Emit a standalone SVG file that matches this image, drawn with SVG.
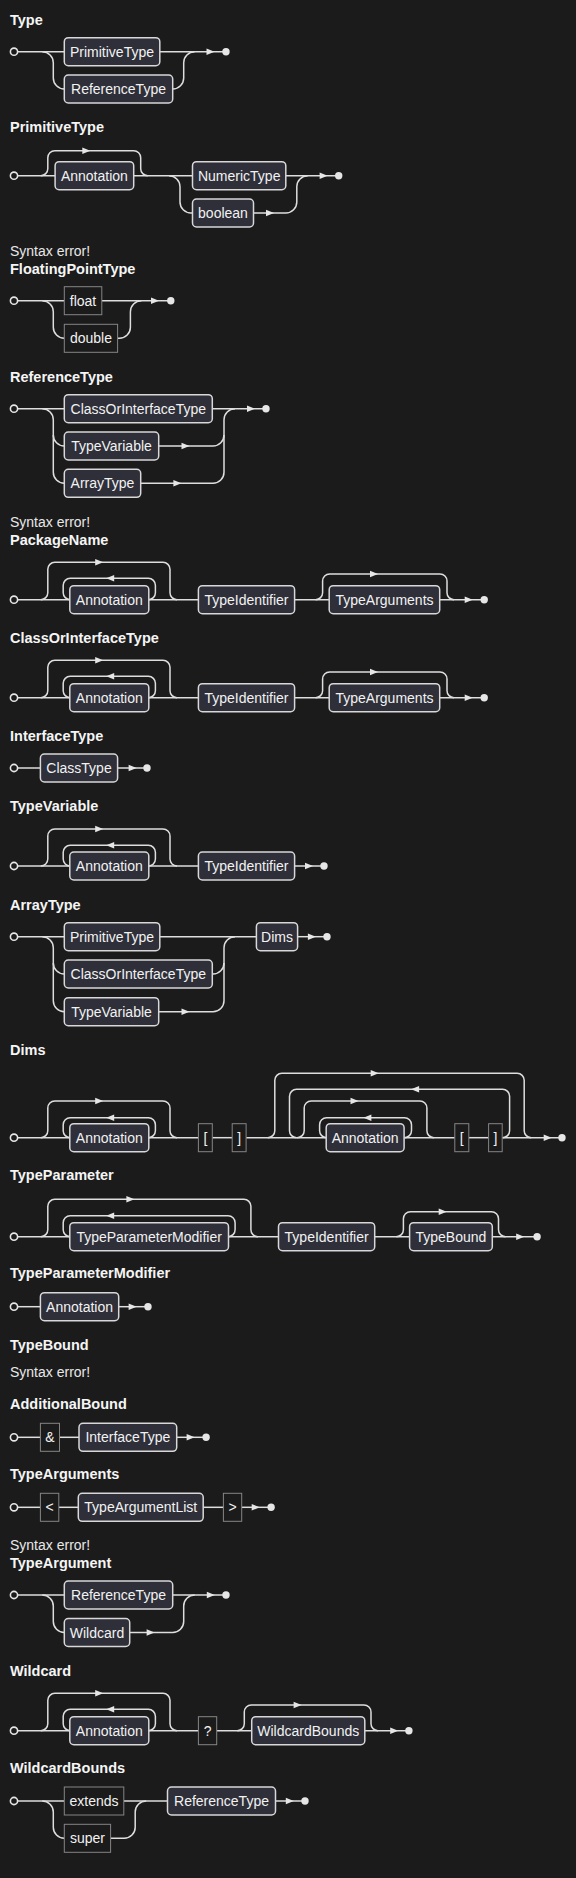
<svg xmlns="http://www.w3.org/2000/svg" width="576" height="1878" viewBox="0 0 576 1878">
<style>
.bg{fill:#1b1b1b}
.c path{fill:none;stroke:#dedede;stroke-width:1.5}
.ah{fill:#e6e6e6;stroke:none}
.dot{fill:#e6e6e6}
.st{fill:#1b1b1b;stroke:#e6e6e6;stroke-width:1.6}
.nt rect{fill:#2e2f39;stroke:#d8d8d8;stroke-width:1.5}
.t rect{fill:#1b1b1b;stroke:#858585;stroke-width:1}
.nt text,.t text{font-family:"Liberation Sans",Arial,sans-serif;font-size:14px;fill:#f2f2f2;text-anchor:middle}
.ttl{font-family:"Liberation Sans",Arial,sans-serif;font-size:14.5px;font-weight:bold;fill:#f5f5f5}
.err{font-family:"Liberation Sans",Arial,sans-serif;font-size:14px;fill:#e8e8e8}
</style>
<defs>
<path id="ae" class="ah" d="M0,-3.3 L8,0 L0,3.3 Z"/>
<path id="ar" class="ah" d="M-4,-3.3 L4,0 L-4,3.3 Z"/>
<path id="al" class="ah" d="M4,-3.3 L-4,0 L4,3.3 Z"/>
</defs>
<rect class="bg" x="0" y="0" width="576" height="1878"/>

<g id="titles">
<text class="ttl" x="10" y="25">Type</text>
<text class="ttl" x="10" y="131.7">PrimitiveType</text>
<text class="err" x="10" y="255.7">Syntax error!</text>
<text class="ttl" x="10" y="274">FloatingPointType</text>
<text class="ttl" x="10" y="381.7">ReferenceType</text>
<text class="err" x="10" y="527.3">Syntax error!</text>
<text class="ttl" x="10" y="545">PackageName</text>
<text class="ttl" x="10" y="642.7">ClassOrInterfaceType</text>
<text class="ttl" x="10" y="740.7">InterfaceType</text>
<text class="ttl" x="10" y="810.7">TypeVariable</text>
<text class="ttl" x="10" y="910">ArrayType</text>
<text class="ttl" x="10" y="1055">Dims</text>
<text class="ttl" x="10" y="1180">TypeParameter</text>
<text class="ttl" x="10" y="1278.3">TypeParameterModifier</text>
<text class="ttl" x="10" y="1350">TypeBound</text>
<text class="err" x="10" y="1376.7">Syntax error!</text>
<text class="ttl" x="10" y="1409.3">AdditionalBound</text>
<text class="ttl" x="10" y="1479.3">TypeArguments</text>
<text class="err" x="10" y="1550">Syntax error!</text>
<text class="ttl" x="10" y="1567.7">TypeArgument</text>
<text class="ttl" x="10" y="1675.7">Wildcard</text>
<text class="ttl" x="10" y="1773.3">WildcardBounds</text>
</g>

<!-- Type -->
<g id="d-Type" transform="translate(0,51.7)">
<g class="c">
<path d="M18,0 H64.3"/>
<path d="M42.3,0 A11,11 0 0 1 53.3,11 V26.3 A11,11 0 0 0 64.3,37.3"/>
<path d="M159.8,0 H226"/>
<path d="M172.7,37.3 A11,11 0 0 0 183.7,26.3 V11 A11,11 0 0 1 194.7,0"/>
<use href="#ae" x="206.5" y="0"/>
</g>
<circle class="st" cx="14" cy="0" r="3.6"/><circle class="dot" cx="226" cy="0" r="3.7"/>
<g id="type-primitivetype" class="nt"><rect x="64.3" y="-14" width="95.5" height="28" rx="4"/><text x="112" y="5">PrimitiveType</text></g>
<g id="type-referencetype" class="nt"><rect x="64.3" y="23.3" width="108.4" height="28" rx="4"/><text x="118.5" y="42.3">ReferenceType</text></g>
</g>

<!-- PrimitiveType -->
<g id="d-PrimitiveType" transform="translate(0,175.7)">
<g class="c">
<path d="M18,0 H55.1"/>
<path d="M40.8,0 A7,7 0 0 0 47.8,-7 V-18 A7,7 0 0 1 54.8,-25 H133.7 A7,7 0 0 1 140.7,-18 V-7 A7,7 0 0 0 147.7,0"/>
<use href="#ar" x="86.3" y="-25"/>
<path d="M133.7,0 H192.5"/>
<path d="M169,0 A11,11 0 0 1 180,11 V26.3 A11,11 0 0 0 191,37.3 H192.5"/>
<path d="M253.5,37.3 H285.8 A11,11 0 0 0 296.8,26.3 V11 A11,11 0 0 1 307.8,0"/>
<use href="#ar" x="270" y="37.3"/>
<path d="M285.8,0 H338.7"/>
<use href="#ae" x="319.6" y="0"/>
</g>
<circle class="st" cx="14" cy="0" r="3.6"/><circle class="dot" cx="338.7" cy="0" r="3.7"/>
<g id="pt-annotation" class="nt"><rect x="55.1" y="-14" width="78.6" height="28" rx="4"/><text x="94.4" y="5">Annotation</text></g>
<g id="pt-numerictype" class="nt"><rect x="192.5" y="-14" width="93.3" height="28" rx="4"/><text x="239.2" y="5">NumericType</text></g>
<g id="pt-boolean" class="nt"><rect x="192.5" y="23.3" width="61" height="28" rx="4"/><text x="223" y="42.3">boolean</text></g>
</g>

<!-- FloatingPointType -->
<g id="d-FloatingPointType" transform="translate(0,300.7)">
<g class="c">
<path d="M18,0 H64.3"/>
<path d="M42.3,0 A11,11 0 0 1 53.3,11 V26.6 A11,11 0 0 0 64.3,37.6"/>
<path d="M117.6,37.6 H119.4 A11,11 0 0 0 130.4,26.6 V11 A11,11 0 0 1 141.4,0"/>
<path d="M101.8,0 H170.8"/>
<use href="#ae" x="151" y="0"/>
</g>
<circle class="st" cx="14" cy="0" r="3.6"/><circle class="dot" cx="170.8" cy="0" r="3.7"/>
<g id="fpt-float" class="t"><rect x="64.3" y="-14" width="37.5" height="28"/><text x="83" y="5">float</text></g>
<g id="fpt-double" class="t"><rect x="64.3" y="23.6" width="53.3" height="28"/><text x="91" y="42.6">double</text></g>
</g>

<!-- ReferenceType -->
<g id="d-ReferenceType" transform="translate(0,408.7)">
<g class="c">
<path d="M18,0 H64.3"/>
<path d="M42.3,0 A11,11 0 0 1 53.3,11 V63.6 A11,11 0 0 0 64.3,74.6"/>
<path d="M53.3,26.3 A11,11 0 0 0 64.3,37.3"/>
<path d="M212.3,0 H266"/>
<path d="M158.7,37.3 H213 A11,11 0 0 0 224,26.3 V11 A11,11 0 0 1 235,0"/>
<path d="M140.7,74.6 H213 A11,11 0 0 0 224,63.6 V26.3"/>
<use href="#ar" x="185.5" y="37.3"/>
<use href="#ar" x="177.4" y="74.6"/>
<use href="#ae" x="247" y="0"/>
</g>
<circle class="st" cx="14" cy="0" r="3.6"/><circle class="dot" cx="266" cy="0" r="3.7"/>
<g id="rt-coit" class="nt"><rect x="64.3" y="-14" width="148" height="28" rx="4"/><text x="138.3" y="5">ClassOrInterfaceType</text></g>
<g id="rt-typevariable" class="nt"><rect x="64.3" y="23.3" width="94.4" height="28" rx="4"/><text x="111.5" y="42.3">TypeVariable</text></g>
<g id="rt-arraytype" class="nt"><rect x="64.3" y="60.6" width="76.4" height="28" rx="4"/><text x="102.5" y="79.6">ArrayType</text></g>
</g>

<!-- PackageName -->
<g id="d-PackageName" transform="translate(0,599.7)">
<g class="c">
<path d="M18,0 H69.8"/>
<path d="M40.8,0 A7,7 0 0 0 47.8,-7 V-30.4 A7,7 0 0 1 54.8,-37.4 H163 A7,7 0 0 1 170,-30.4 V-7 A7,7 0 0 0 177,0"/>
<path d="M148.4,0 A7,7 0 0 0 155.4,-7 V-14.4 A7,7 0 0 0 148.4,-21.4 H70.2 A7,7 0 0 0 63.2,-14.4 V-7 A7,7 0 0 0 70.2,0"/>
<path d="M148.8,0 H198.4"/>
<path d="M294.6,0 H329.2"/>
<path d="M315.6,0 A7,7 0 0 0 322.6,-7 V-18.7 A7,7 0 0 1 329.6,-25.7 H440 A7,7 0 0 1 447,-18.7 V-7 A7,7 0 0 0 454,0"/>
<path d="M439.7,0 H484.2"/>
<use href="#ar" x="99.2" y="-37.4"/>
<use href="#al" x="110.2" y="-21.4"/>
<use href="#ar" x="374" y="-25.7"/>
<use href="#ae" x="464.7" y="0"/>
</g>
<circle class="st" cx="14" cy="0" r="3.6"/><circle class="dot" cx="484.2" cy="0" r="3.7"/>
<g id="pn-annotation" class="nt"><rect x="69.8" y="-14" width="79" height="28" rx="4"/><text x="109.3" y="5">Annotation</text></g>
<g id="pn-typeidentifier" class="nt"><rect x="198.4" y="-14" width="96.2" height="28" rx="4"/><text x="246.5" y="5">TypeIdentifier</text></g>
<g id="pn-typearguments" class="nt"><rect x="329.2" y="-14" width="110.5" height="28" rx="4"/><text x="384.5" y="5">TypeArguments</text></g>
</g>

<!-- ClassOrInterfaceType -->
<g id="d-ClassOrInterfaceType" transform="translate(0,697.7)">
<g class="c">
<path d="M18,0 H69.8"/>
<path d="M40.8,0 A7,7 0 0 0 47.8,-7 V-30.4 A7,7 0 0 1 54.8,-37.4 H163 A7,7 0 0 1 170,-30.4 V-7 A7,7 0 0 0 177,0"/>
<path d="M148.4,0 A7,7 0 0 0 155.4,-7 V-14.4 A7,7 0 0 0 148.4,-21.4 H70.2 A7,7 0 0 0 63.2,-14.4 V-7 A7,7 0 0 0 70.2,0"/>
<path d="M148.8,0 H198.4"/>
<path d="M294.6,0 H329.2"/>
<path d="M315.6,0 A7,7 0 0 0 322.6,-7 V-18.7 A7,7 0 0 1 329.6,-25.7 H440 A7,7 0 0 1 447,-18.7 V-7 A7,7 0 0 0 454,0"/>
<path d="M439.7,0 H484.2"/>
<use href="#ar" x="99.2" y="-37.4"/>
<use href="#al" x="110.2" y="-21.4"/>
<use href="#ar" x="374" y="-25.7"/>
<use href="#ae" x="464.7" y="0"/>
</g>
<circle class="st" cx="14" cy="0" r="3.6"/><circle class="dot" cx="484.2" cy="0" r="3.7"/>
<g id="coit-annotation" class="nt"><rect x="69.8" y="-14" width="79" height="28" rx="4"/><text x="109.3" y="5">Annotation</text></g>
<g id="coit-typeidentifier" class="nt"><rect x="198.4" y="-14" width="96.2" height="28" rx="4"/><text x="246.5" y="5">TypeIdentifier</text></g>
<g id="coit-typearguments" class="nt"><rect x="329.2" y="-14" width="110.5" height="28" rx="4"/><text x="384.5" y="5">TypeArguments</text></g>
</g>

<!-- InterfaceType -->
<g id="d-InterfaceType" transform="translate(0,768)">
<g class="c">
<path d="M18,0 H40.4"/>
<path d="M117.6,0 H147"/>
<use href="#ae" x="128.6" y="0"/>
</g>
<circle class="st" cx="14" cy="0" r="3.6"/><circle class="dot" cx="147" cy="0" r="3.7"/>
<g id="it-classtype" class="nt"><rect x="40.4" y="-14" width="77.2" height="28" rx="4"/><text x="79" y="5">ClassType</text></g>
</g>

<!-- TypeVariable -->
<g id="d-TypeVariable" transform="translate(0,866)">
<g class="c">
<path d="M18,0 H69.8"/>
<path d="M40.8,0 A7,7 0 0 0 47.8,-7 V-30 A7,7 0 0 1 54.8,-37 H163 A7,7 0 0 1 170,-30 V-7 A7,7 0 0 0 177,0"/>
<path d="M148.4,0 A7,7 0 0 0 155.4,-7 V-13.7 A7,7 0 0 0 148.4,-20.7 H70.2 A7,7 0 0 0 63.2,-13.7 V-7 A7,7 0 0 0 70.2,0"/>
<path d="M148.8,0 H198.4"/>
<path d="M294.6,0 H324"/>
<use href="#ar" x="99.2" y="-37"/>
<use href="#al" x="110.2" y="-20.7"/>
<use href="#ae" x="305" y="0"/>
</g>
<circle class="st" cx="14" cy="0" r="3.6"/><circle class="dot" cx="324" cy="0" r="3.7"/>
<g id="tv-annotation" class="nt"><rect x="69.8" y="-14" width="79" height="28" rx="4"/><text x="109.3" y="5">Annotation</text></g>
<g id="tv-typeidentifier" class="nt"><rect x="198.4" y="-14" width="96.2" height="28" rx="4"/><text x="246.5" y="5">TypeIdentifier</text></g>
</g>

<!-- ArrayType -->
<g id="d-ArrayType" transform="translate(0,936.7)">
<g class="c">
<path d="M18,0 H64.3"/>
<path d="M42.3,0 A11,11 0 0 1 53.3,11 V64 A11,11 0 0 0 64.3,75"/>
<path d="M53.3,26.3 A11,11 0 0 0 64.3,37.3"/>
<path d="M159.8,0 H256.4"/>
<path d="M212.3,37.3 H213 A11,11 0 0 0 224,26.3 V11 A11,11 0 0 1 235,0"/>
<path d="M158.7,75 H213 A11,11 0 0 0 224,64 V26.3"/>
<use href="#ar" x="185.5" y="75"/>
<path d="M297.6,0 H327"/>
<use href="#ae" x="307.9" y="0"/>
</g>
<circle class="st" cx="14" cy="0" r="3.6"/><circle class="dot" cx="327" cy="0" r="3.7"/>
<g id="at-primitivetype" class="nt"><rect x="64.3" y="-14" width="95.5" height="28" rx="4"/><text x="112" y="5">PrimitiveType</text></g>
<g id="at-coit" class="nt"><rect x="64.3" y="23.3" width="148" height="28" rx="4"/><text x="138.3" y="42.3">ClassOrInterfaceType</text></g>
<g id="at-typevariable" class="nt"><rect x="64.3" y="61" width="94.4" height="28" rx="4"/><text x="111.5" y="80">TypeVariable</text></g>
<g id="at-dims" class="nt"><rect x="256.4" y="-14" width="41.2" height="28" rx="4"/><text x="277" y="5">Dims</text></g>
</g>

<!-- Dims -->
<g id="d-Dims" transform="translate(0,1137.7)">
<g class="c">
<path d="M18,0 H69.8"/>
<path d="M40.8,0 A7,7 0 0 0 47.8,-7 V-29.7 A7,7 0 0 1 54.8,-36.7 H163 A7,7 0 0 1 170,-29.7 V-7 A7,7 0 0 0 177,0"/>
<path d="M148.4,0 A7,7 0 0 0 155.4,-7 V-13 A7,7 0 0 0 148.4,-20 H70.2 A7,7 0 0 0 63.2,-13 V-7 A7,7 0 0 0 70.2,0"/>
<path d="M148.8,0 H198.4"/>
<path d="M212.3,0 H232.2"/>
<path d="M246.1,0 H326.2"/>
<path d="M267.8,0 A7,7 0 0 0 274.8,-7 V-57.4 A7,7 0 0 1 281.8,-64.4 H517.2 A7,7 0 0 1 524.2,-57.4 V-7 A7,7 0 0 0 531.2,0"/>
<path d="M502.6,0 A7,7 0 0 0 509.6,-7 V-41.4 A7,7 0 0 0 502.6,-48.4 H296.5 A7,7 0 0 0 289.5,-41.4 V-7 A7,7 0 0 0 296.5,0"/>
<path d="M297.2,0 A7,7 0 0 0 304.2,-7 V-29.7 A7,7 0 0 1 311.2,-36.7 H419.9 A7,7 0 0 1 426.9,-29.7 V-7 A7,7 0 0 0 433.9,0"/>
<path d="M404.5,0 A7,7 0 0 0 411.5,-7 V-13 A7,7 0 0 0 404.5,-20 H326.6 A7,7 0 0 0 319.6,-13 V-7 A7,7 0 0 0 326.6,0"/>
<path d="M404.1,0 H454.8"/>
<path d="M468.8,0 H488.6"/>
<path d="M502.2,0 H562"/>
<use href="#ar" x="99.2" y="-36.7"/>
<use href="#al" x="110.2" y="-20"/>
<use href="#ar" x="374.7" y="-64.4"/>
<use href="#al" x="415.1" y="-48.4"/>
<use href="#ar" x="354.5" y="-36.7"/>
<use href="#al" x="367.4" y="-20"/>
<use href="#ae" x="543.7" y="0"/>
</g>
<circle class="st" cx="14" cy="0" r="3.6"/><circle class="dot" cx="562" cy="0" r="3.7"/>
<g id="dims-annotation1" class="nt"><rect x="69.8" y="-14" width="79" height="28" rx="4"/><text x="109.3" y="5">Annotation</text></g>
<g id="dims-lb1" class="t"><rect x="198.4" y="-14" width="13.9" height="28"/><text x="205.35" y="5">[</text></g>
<g id="dims-rb1" class="t"><rect x="232.2" y="-14" width="13.9" height="28"/><text x="239.15" y="5">]</text></g>
<g id="dims-annotation2" class="nt"><rect x="326.2" y="-14" width="77.9" height="28" rx="4"/><text x="365.15" y="5">Annotation</text></g>
<g id="dims-lb2" class="t"><rect x="454.8" y="-14" width="14" height="28"/><text x="461.8" y="5">[</text></g>
<g id="dims-rb2" class="t"><rect x="488.6" y="-14" width="13.6" height="28"/><text x="495.4" y="5">]</text></g>
</g>

<!-- TypeParameter -->
<g id="d-TypeParameter" transform="translate(0,1236.7)">
<g class="c">
<path d="M18,0 H69.8"/>
<path d="M40.8,0 A7,7 0 0 0 47.8,-7 V-30.4 A7,7 0 0 1 54.8,-37.4 H243.9 A7,7 0 0 1 250.9,-30.4 V-7 A7,7 0 0 0 257.9,0"/>
<path d="M228.1,0 A7,7 0 0 0 235.1,-7 V-14 A7,7 0 0 0 228.1,-21 H70.2 A7,7 0 0 0 63.2,-14 V-7 A7,7 0 0 0 70.2,0"/>
<path d="M228.5,0 H278.5"/>
<path d="M374.7,0 H409.6"/>
<path d="M396.4,0 A7,7 0 0 0 403.4,-7 V-18 A7,7 0 0 1 410.4,-25 H491.5 A7,7 0 0 1 498.5,-18 V-7 A7,7 0 0 0 505.5,0"/>
<path d="M492.3,0 H537.1"/>
<use href="#ar" x="130.4" y="-37.4"/>
<use href="#al" x="110.2" y="-21"/>
<use href="#ar" x="442.7" y="-25"/>
<use href="#ae" x="516.2" y="0"/>
</g>
<circle class="st" cx="14" cy="0" r="3.6"/><circle class="dot" cx="537.1" cy="0" r="3.7"/>
<g id="tp-tpm" class="nt"><rect x="69.8" y="-14" width="158.7" height="28" rx="4"/><text x="149.15" y="5">TypeParameterModifier</text></g>
<g id="tp-typeidentifier" class="nt"><rect x="278.5" y="-14" width="96.2" height="28" rx="4"/><text x="326.6" y="5">TypeIdentifier</text></g>
<g id="tp-typebound" class="nt"><rect x="409.6" y="-14" width="82.7" height="28" rx="4"/><text x="450.95" y="5">TypeBound</text></g>
</g>

<!-- TypeParameterModifier -->
<g id="d-TypeParameterModifier" transform="translate(0,1306.7)">
<g class="c">
<path d="M18,0 H40.4"/>
<path d="M118.7,0 H148"/>
<use href="#ae" x="128.6" y="0"/>
</g>
<circle class="st" cx="14" cy="0" r="3.6"/><circle class="dot" cx="148" cy="0" r="3.7"/>
<g id="tpm-annotation" class="nt"><rect x="40.4" y="-14" width="78.3" height="28" rx="4"/><text x="79.55" y="5">Annotation</text></g>
</g>

<!-- AdditionalBound -->
<g id="d-AdditionalBound" transform="translate(0,1437.3)">
<g class="c">
<path d="M18,0 H40.4"/>
<path d="M59.5,0 H79"/>
<path d="M176.7,0 H206.1"/>
<use href="#ae" x="186.6" y="0"/>
</g>
<circle class="st" cx="14" cy="0" r="3.6"/><circle class="dot" cx="206.1" cy="0" r="3.7"/>
<g id="ab-amp" class="t"><rect x="40.4" y="-14" width="19.1" height="28"/><text x="49.95" y="5">&amp;</text></g>
<g id="ab-interfacetype" class="nt"><rect x="79" y="-14" width="97.7" height="28" rx="4"/><text x="127.85" y="5">InterfaceType</text></g>
</g>

<!-- TypeArguments -->
<g id="d-TypeArguments" transform="translate(0,1507.3)">
<g class="c">
<path d="M18,0 H40.4"/>
<path d="M58.8,0 H78.3"/>
<path d="M203.2,0 H223.4"/>
<path d="M241.7,0 H271.1"/>
<use href="#ae" x="251.7" y="0"/>
</g>
<circle class="st" cx="14" cy="0" r="3.6"/><circle class="dot" cx="271.1" cy="0" r="3.7"/>
<g id="ta-lt" class="t"><rect x="40.4" y="-14" width="18.4" height="28"/><text x="49.6" y="5">&lt;</text></g>
<g id="ta-typeargumentlist" class="nt"><rect x="78.3" y="-14" width="124.9" height="28" rx="4"/><text x="140.75" y="5">TypeArgumentList</text></g>
<g id="ta-gt" class="t"><rect x="223.4" y="-14" width="18.3" height="28"/><text x="232.55" y="5">&gt;</text></g>
</g>

<!-- TypeArgument -->
<g id="d-TypeArgument" transform="translate(0,1595)">
<g class="c">
<path d="M18,0 H64.3"/>
<path d="M42.3,0 A11,11 0 0 1 53.3,11 V26.5 A11,11 0 0 0 64.3,37.5"/>
<path d="M172.7,0 H226"/>
<path d="M129.7,37.5 H172.7 A11,11 0 0 0 183.7,26.5 V11 A11,11 0 0 1 194.7,0"/>
<use href="#ar" x="150.6" y="37.5"/>
<use href="#ae" x="206.8" y="0"/>
</g>
<circle class="st" cx="14" cy="0" r="3.6"/><circle class="dot" cx="226" cy="0" r="3.7"/>
<g id="targ-referencetype" class="nt"><rect x="64.3" y="-14" width="108.4" height="28" rx="4"/><text x="118.5" y="5">ReferenceType</text></g>
<g id="targ-wildcard" class="nt"><rect x="64.3" y="23.5" width="65.4" height="28" rx="4"/><text x="97" y="42.5">Wildcard</text></g>
</g>

<!-- Wildcard -->
<g id="d-Wildcard" transform="translate(0,1730.7)">
<g class="c">
<path d="M18,0 H69.8"/>
<path d="M40.8,0 A7,7 0 0 0 47.8,-7 V-30.4 A7,7 0 0 1 54.8,-37.4 H163 A7,7 0 0 1 170,-30.4 V-7 A7,7 0 0 0 177,0"/>
<path d="M148.4,0 A7,7 0 0 0 155.4,-7 V-14.4 A7,7 0 0 0 148.4,-21.4 H70.2 A7,7 0 0 0 63.2,-14.4 V-7 A7,7 0 0 0 70.2,0"/>
<path d="M148.8,0 H198.4"/>
<path d="M216.7,0 H251.7"/>
<path d="M237.3,0 A7,7 0 0 0 244.3,-7 V-18.7 A7,7 0 0 1 251.3,-25.7 H364 A7,7 0 0 1 371,-18.7 V-7 A7,7 0 0 0 378,0"/>
<path d="M364.8,0 H408.9"/>
<use href="#ar" x="99.2" y="-37.4"/>
<use href="#al" x="110.2" y="-21.4"/>
<use href="#ar" x="297.6" y="-25.7"/>
<use href="#ae" x="390.2" y="0"/>
</g>
<circle class="st" cx="14" cy="0" r="3.6"/><circle class="dot" cx="408.9" cy="0" r="3.7"/>
<g id="wc-annotation" class="nt"><rect x="69.8" y="-14" width="79" height="28" rx="4"/><text x="109.3" y="5">Annotation</text></g>
<g id="wc-q" class="t"><rect x="198.4" y="-14" width="18.3" height="28"/><text x="207.55" y="5">?</text></g>
<g id="wc-wildcardbounds" class="nt"><rect x="251.7" y="-14" width="113.1" height="28" rx="4"/><text x="308.25" y="5">WildcardBounds</text></g>
</g>

<!-- WildcardBounds -->
<g id="d-WildcardBounds" transform="translate(0,1801)">
<g class="c">
<path d="M18,0 H64.3"/>
<path d="M42.3,0 A11,11 0 0 1 53.3,11 V26.3 A11,11 0 0 0 64.3,37.3"/>
<path d="M123.8,0 H167.5"/>
<path d="M110.6,37.3 H124.2 A11,11 0 0 0 135.2,26.3 V11 A11,11 0 0 1 146.2,0"/>
<path d="M275.5,0 H305"/>
<use href="#ae" x="285.8" y="0"/>
</g>
<circle class="st" cx="14" cy="0" r="3.6"/><circle class="dot" cx="305" cy="0" r="3.7"/>
<g id="wb-extends" class="t"><rect x="64.3" y="-14" width="59.5" height="28"/><text x="94.05" y="5">extends</text></g>
<g id="wb-super" class="t"><rect x="64.3" y="23.3" width="46.3" height="28"/><text x="87.45" y="42.3">super</text></g>
<g id="wb-referencetype" class="nt"><rect x="167.5" y="-14" width="108" height="28" rx="4"/><text x="221.5" y="5">ReferenceType</text></g>
</g>
</svg>
